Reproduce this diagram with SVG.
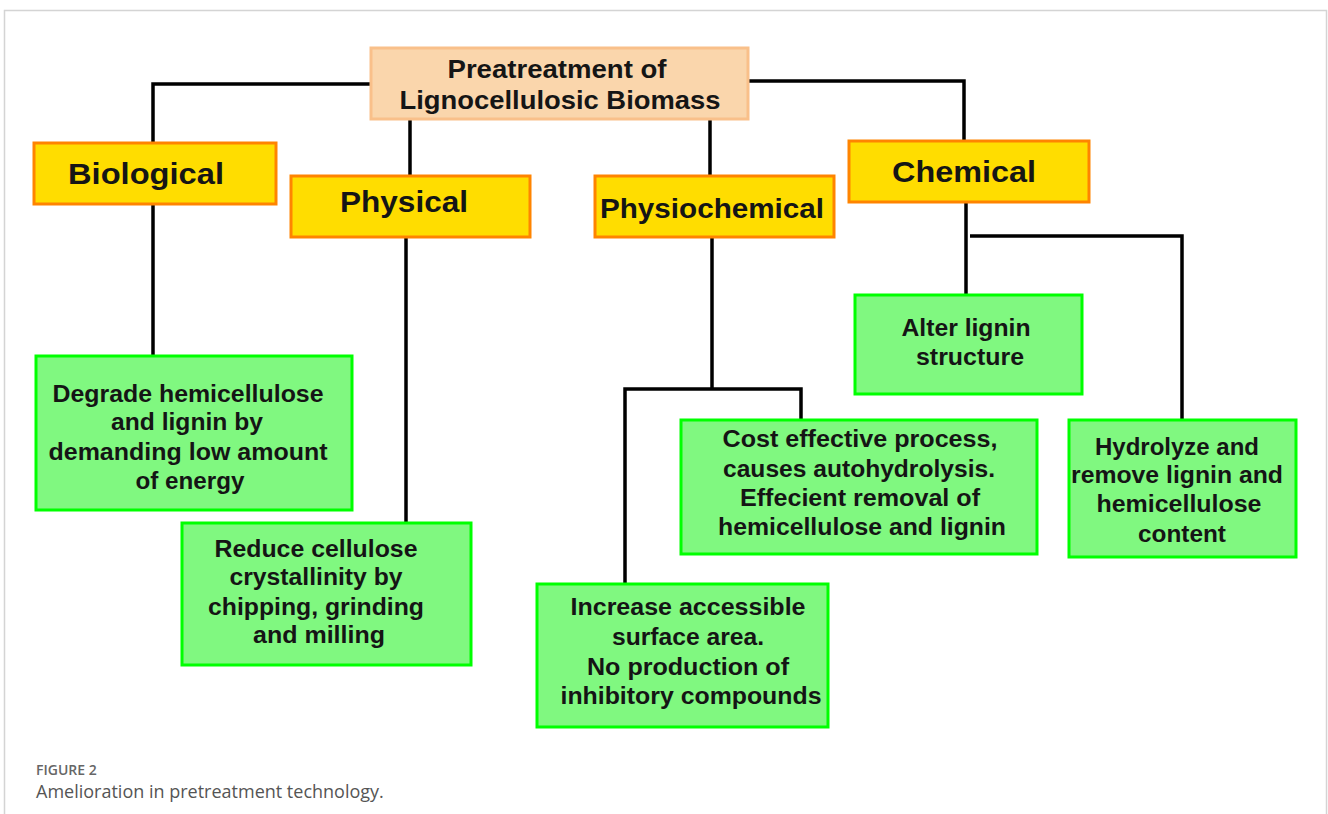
<svg xmlns="http://www.w3.org/2000/svg" width="1328" height="814" viewBox="0 0 1328 814">
<style>
.root{fill:#FAD6AC;stroke:#F9C08A;stroke-width:3}
.cat{fill:#FFDD00;stroke:#FF8400;stroke-width:3}
.leaf{fill:#80F880;stroke:#00FF00;stroke-width:3}
.t{font-family:"Liberation Sans",Arial,sans-serif;font-weight:bold;fill:#151515;text-anchor:middle}
.tr{font-size:25px}
.tc{font-size:30px}
.tl{font-size:23px}
.conn{fill:none;stroke:#000;stroke-width:3.5}
.cap1{font-family:"Open Sans",sans-serif;font-weight:600;font-size:14px;fill:#666}
.cap2{font-family:"Open Sans",sans-serif;font-size:18px;fill:#555}
</style>
<rect x="0" y="0" width="1328" height="814" fill="#fff"/>
<rect x="4.5" y="10.5" width="1322" height="830" fill="none" stroke="#d4d4d4" stroke-width="1.5"/>
<g id="connectors">
<polyline class="conn" points="371,84 153,84 153,143"/>
<line class="conn" x1="410" y1="119" x2="410" y2="175"/>
<line class="conn" x1="710" y1="119" x2="710" y2="175"/>
<polyline class="conn" points="748,81 964,81 964,140"/>
<line class="conn" x1="153" y1="204" x2="153" y2="355"/>
<line class="conn" x1="406" y1="237" x2="406" y2="522"/>
<line class="conn" x1="712" y1="237" x2="712" y2="389"/>
<polyline class="conn" points="625,583 625,389 801,389 801,419"/>
<line class="conn" x1="966" y1="202" x2="966" y2="295"/>
<polyline class="conn" points="970,236 1182,236 1182,419"/>
</g>
<g id="root">
<rect class="root" x="371" y="48" width="377" height="71"/>
<text class="t tr" x="557" y="78" textLength="219" lengthAdjust="spacingAndGlyphs">Preatreatment of</text>
<text class="t tr" x="560" y="109" textLength="321" lengthAdjust="spacingAndGlyphs">Lignocellulosic Biomass</text>
</g>
<g id="biological">
<rect class="cat" x="34" y="143" width="242" height="61"/>
<text class="t tc" x="146" y="184" textLength="156" lengthAdjust="spacingAndGlyphs">Biological</text>
</g>
<g id="physical">
<rect class="cat" x="291" y="176" width="239" height="61"/>
<text class="t tc" x="404" y="212" textLength="128" lengthAdjust="spacingAndGlyphs">Physical</text>
</g>
<g id="physiochemical">
<rect class="cat" x="595" y="176" width="239" height="61"/>
<text class="t" style="font-size:28px" x="712" y="218" textLength="224" lengthAdjust="spacingAndGlyphs">Physiochemical</text>
</g>
<g id="chemical">
<rect class="cat" x="849" y="141" width="240" height="61"/>
<text class="t tc" x="964" y="182" textLength="144" lengthAdjust="spacingAndGlyphs">Chemical</text>
</g>
<g id="degrade">
<rect class="leaf" x="36" y="356" width="316" height="154"/>
<text class="t tl" x="188" y="402" textLength="271" lengthAdjust="spacingAndGlyphs">Degrade hemicellulose</text>
<text class="t tl" x="187" y="430" textLength="152" lengthAdjust="spacingAndGlyphs">and lignin by</text>
<text class="t tl" x="188" y="460" textLength="279" lengthAdjust="spacingAndGlyphs">demanding low amount</text>
<text class="t tl" x="190" y="489" textLength="109" lengthAdjust="spacingAndGlyphs">of energy</text>
</g>
<g id="reduce">
<rect class="leaf" x="182" y="523" width="289" height="142"/>
<text class="t tl" x="316" y="557" textLength="203" lengthAdjust="spacingAndGlyphs">Reduce cellulose</text>
<text class="t tl" x="316" y="585" textLength="173" lengthAdjust="spacingAndGlyphs">crystallinity by</text>
<text class="t tl" x="316" y="615" textLength="216" lengthAdjust="spacingAndGlyphs">chipping, grinding</text>
<text class="t tl" x="319" y="643" textLength="132" lengthAdjust="spacingAndGlyphs">and milling</text>
</g>
<g id="alter">
<rect class="leaf" x="855" y="295" width="227" height="99"/>
<text class="t tl" x="966" y="336" textLength="129" lengthAdjust="spacingAndGlyphs">Alter lignin</text>
<text class="t tl" x="970" y="365" textLength="108" lengthAdjust="spacingAndGlyphs">structure</text>
</g>
<g id="cost">
<rect class="leaf" x="681" y="420" width="356" height="134"/>
<text class="t tl" x="860" y="447" textLength="275" lengthAdjust="spacingAndGlyphs">Cost effective process,</text>
<text class="t tl" x="859" y="477" textLength="272" lengthAdjust="spacingAndGlyphs">causes autohydrolysis.</text>
<text class="t tl" x="860" y="506" textLength="240" lengthAdjust="spacingAndGlyphs">Effecient removal of</text>
<text class="t tl" x="862" y="535" textLength="288" lengthAdjust="spacingAndGlyphs">hemicellulose and lignin</text>
</g>
<g id="hydrolyze">
<rect class="leaf" x="1069" y="420" width="227" height="137"/>
<text class="t tl" x="1177" y="455" textLength="164" lengthAdjust="spacingAndGlyphs">Hydrolyze and</text>
<text class="t tl" x="1177" y="483" textLength="212" lengthAdjust="spacingAndGlyphs">remove lignin and</text>
<text class="t tl" x="1179" y="512" textLength="165" lengthAdjust="spacingAndGlyphs">hemicellulose</text>
<text class="t tl" x="1182" y="542" textLength="88" lengthAdjust="spacingAndGlyphs">content</text>
</g>
<g id="increase">
<rect class="leaf" x="537" y="584" width="291" height="143"/>
<text class="t tl" x="688" y="615" textLength="235" lengthAdjust="spacingAndGlyphs">Increase accessible</text>
<text class="t tl" x="688" y="645" textLength="152" lengthAdjust="spacingAndGlyphs">surface area.</text>
<text class="t tl" x="688" y="675" textLength="202" lengthAdjust="spacingAndGlyphs">No production of</text>
<text class="t tl" x="691" y="704" textLength="261" lengthAdjust="spacingAndGlyphs">inhibitory compounds</text>
</g>
<g id="caption">
<text class="cap1" x="36" y="775">FIGURE 2</text>
<text class="cap2" x="36" y="798">Amelioration in pretreatment technology.</text>
</g>
</svg>
